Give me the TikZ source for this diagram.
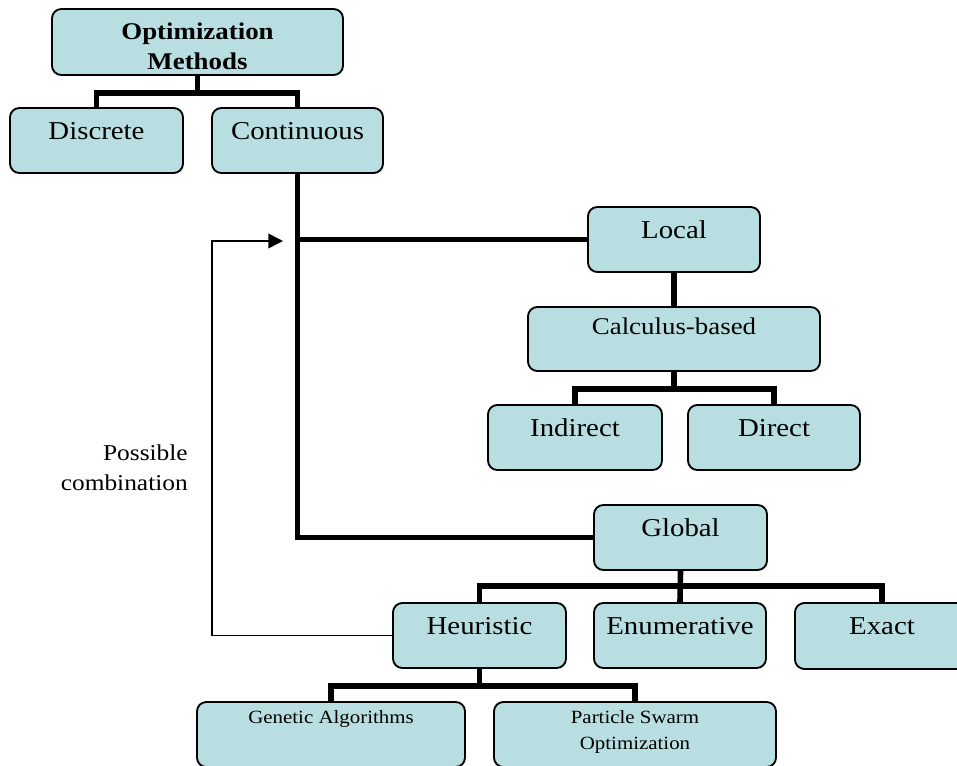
\documentclass[tikz,border=0pt]{standalone}
\usepackage{fontspec}
\setmainfont[FakeStretch=1.12]{Liberation Serif}
\usetikzlibrary{arrows.meta}
\definecolor{boxfill}{RGB}{184,222,226}
\tikzset{
  box/.style={draw=black, line width=1.4pt, fill=boxfill, rounded corners=7pt, inner sep=0pt},
  conn/.style={line width=4.2pt, black},
  thin/.style={line width=1.1pt, black},
  mainlbl/.style={anchor=base, inner sep=0pt, font=\fontsize{19.3pt}{23pt}\selectfont},
  boldlbl/.style={anchor=base, inner sep=0pt, align=center, font=\fontsize{18pt}{22.5pt}\selectfont\bfseries},
  midlbl/.style={anchor=base, inner sep=0pt, font=\fontsize{18pt}{22pt}\selectfont},
  smalllbl/.style={anchor=base, inner sep=0pt, align=center, font=\fontsize{14pt}{19.5pt}\selectfont}
}
\begin{document}
\begin{tikzpicture}[x=0.75pt, y=-0.75pt]
\path[use as bounding box, clip] (0,0) rectangle (957,766);

% boxes
\node[box, minimum width=218.25pt, minimum height=49.5pt] (opt) at (197.5,42) {};
\node[box, minimum width=129.75pt, minimum height=48.75pt] (disc) at (96.5,140.5) {};
\node[box, minimum width=128.25pt, minimum height=48.75pt] (cont) at (297.5,140.5) {};
\node[box, minimum width=129pt, minimum height=48.75pt] (local) at (674,239.5) {};
\node[box, minimum width=219pt, minimum height=48pt] (calc) at (674,339) {};
\node[box, minimum width=130.5pt, minimum height=48.75pt] (ind) at (575,437.5) {};
\node[box, minimum width=129pt, minimum height=48.75pt] (dir) at (774,437.5) {};
\node[box, minimum width=129.75pt, minimum height=48.75pt] (glob) at (680.5,537.5) {};
\node[box, minimum width=129.75pt, minimum height=48.75pt] (heur) at (479.5,635.5) {};
\node[box, minimum width=129pt, minimum height=48.75pt] (enum) at (680,635.5) {};
\node[box, minimum width=130.5pt, minimum height=49.5pt] (exact) at (882,636) {};
\node[box, minimum width=201pt, minimum height=48.75pt] (ga) at (331,734.5) {};
\node[box, minimum width=211.5pt, minimum height=48.75pt] (pso) at (635,734.5) {};

% labels (multi-line labels: base anchor is on the last line)
\node[boldlbl] (optT) at ([yshift=-45.75pt]opt.north) {Optimization\\Methods};
\node[mainlbl] (discT) at ([yshift=-24pt]disc.north) {Discrete};
\node[mainlbl] (contT) at ([yshift=-24pt]cont.north) {Continuous};
\node[mainlbl] (localT) at ([yshift=-24pt]local.north) {Local};
\node[midlbl] (calcT) at ([yshift=-21pt]calc.north) {Calculus-based};
\node[mainlbl] (indT) at ([yshift=-24pt]ind.north) {Indirect};
\node[mainlbl] (dirT) at ([yshift=-24pt]dir.north) {Direct};
\node[mainlbl] (globT) at ([yshift=-24pt]glob.north) {Global};
\node[mainlbl] (heurT) at ([yshift=-24pt]heur.north) {Heuristic};
\node[mainlbl] (enumT) at ([yshift=-24pt]enum.north) {Enumerative};
\node[mainlbl] (exactT) at ([yshift=-24pt]exact.north) {Exact};
\node[smalllbl] (gaT) at ([yshift=-16.5pt]ga.north) {Genetic Algorithms};
\node[smalllbl] (psoT) at ([yshift=-36pt]pso.north) {Particle Swarm\\Optimization};
\node[anchor=base east, inner sep=0pt, align=right, font=\fontsize{17pt}{22.5pt}\selectfont] (poss) at (188,490) {Possible\\combination};

% thick connectors
\draw[conn] (opt.south) -- ++(0,17) coordinate (j1);
\draw[conn] (disc.north) |- (j1) -| (cont.north);
\draw[conn] (cont.south) |- (glob.west);
\draw[conn] (cont.south |- local.west) -- (local.west);
\draw[conn] (local.south) -- (calc.north);
\draw[conn] (calc.south) -- ++(0,17) coordinate (j2);
\draw[conn] (ind.north) |- (j2) -| (dir.north);
\draw[conn] (glob.south) -- (enum.north);
\coordinate (j3) at (glob.south |- 0,586);
\draw[conn] (heur.north) |- (j3) -| (exact.north);
\draw[conn] (heur.south) -- ++(0,17) coordinate (j4);
\draw[conn] (ga.north) |- (j4) -| (pso.north);

% feedback arrow
\coordinate (turn) at (212,241);
\coordinate (arr) at (283,241);
\draw[thin, -{Triangle[length=11pt,width=11pt]}] (heur.west) -| (turn) -- (arr);
\end{tikzpicture}
\end{document}
